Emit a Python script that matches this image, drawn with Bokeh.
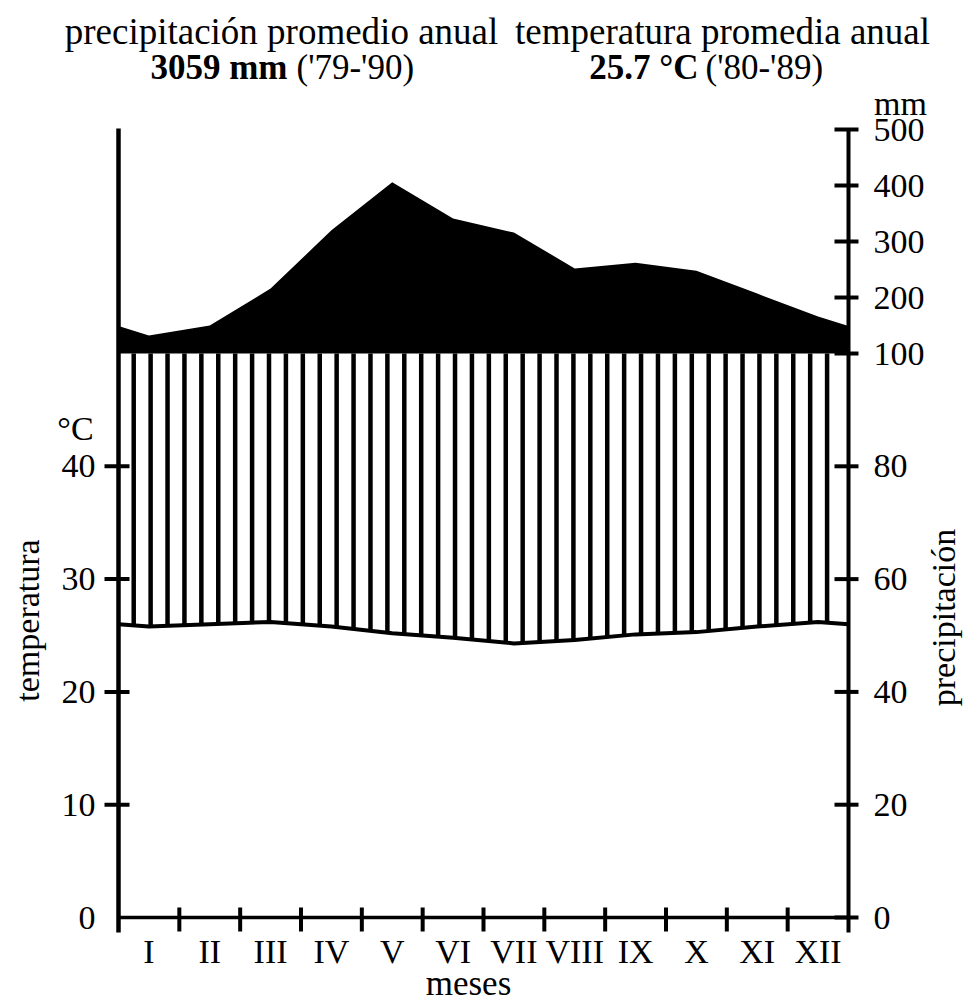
import numpy as np
from bokeh.plotting import figure
from bokeh.models import Range1d
from bokeh.core.properties import value
from bokeh.embed import file_html
from bokeh.resources import INLINE

# ---------------- data ----------------
months = ["I", "II", "III", "IV", "V", "VI", "VII", "VIII", "IX", "X", "XI", "XII"]
temperature = [25.8, 26.0, 26.2, 25.8, 25.2, 24.8, 24.3, 24.6, 25.1, 25.3, 25.8, 26.2]   # °C
precipitation = [132, 150, 216, 320, 406, 341, 316, 252, 262, 248, 207, 166]            # mm
temp_ticks = [0, 10, 20, 30, 40]
precip_ticks = [0, 20, 40, 60, 80, 100, 200, 300, 400, 500]

title_left_1 = "precipitación promedio anual"
title_left_bold = "3059 mm"
title_left_rest = "('79-'90)"
title_right_1 = "temperatura promedia anual"
title_right_bold = "25.7 °C"
title_right_rest = "('80-'89)"

# ---------------- scales ----------------
COMPRESS = 4.965  # temperature units per 100 mm above 100 mm


def mm_to_y(mm):
    mm = np.asarray(mm, dtype=float)
    return np.where(mm <= 100, mm / 2.0, 50 + (mm - 100) / 100.0 * COMPRESS)


YMAX = float(mm_to_y(500))

W, H = 965, 1004
L, R, TOP, B = 118, 848, 129, 917   # pixel box of the diagram


def dx(px):
    return (px - L) / (R - L) * 12.0


def dy(py):
    return (B - py) / (B - TOP) * YMAX


FONT = "Liberation Serif"

p = figure(width=W, height=H, x_range=Range1d(dx(0), dx(W)), y_range=Range1d(dy(H), dy(0)),
           toolbar_location=None, output_backend="svg",
           x_axis_type=None, y_axis_type=None,
           min_border=0, min_border_left=0, min_border_right=0,
           min_border_top=0, min_border_bottom=0)
p.outline_line_color = None
p.background_fill_color = "white"
p.border_fill_color = "white"
p.xgrid.visible = False
p.ygrid.visible = False

# ---------------- series ----------------
xm = np.arange(len(months)) + 0.5
t_edge = (temperature[0] + temperature[-1]) / 2.0
p_edge = (precipitation[0] + precipitation[-1]) / 2.0
x_ext = np.concatenate([[0.0], xm, [12.0]])
t_ext = np.array([t_edge] + list(temperature) + [t_edge])
p_ext = mm_to_y([p_edge] + list(precipitation) + [p_edge])

# black area above 100 mm
p.varea(x=x_ext, y1=np.full(len(x_ext), 50.0), y2=p_ext, fill_color="black", fill_alpha=1)

# vertical hatching between temperature curve and 100 mm line
xh = np.arange(0.25, 11.9, 0.278)
yh = np.interp(xh, x_ext, t_ext)
p.segment(x0=xh, y0=yh, x1=xh, y1=np.full(len(xh), 50.0), line_color="black", line_width=4.5)

# temperature curve
p.line(x_ext, t_ext, line_color="black", line_width=4)

# ---------------- axes (drawn on the same scales) ----------------
ybot = dy(932)
p.segment(x0=[0], y0=[ybot], x1=[0], y1=[dy(128)], line_color="black", line_width=4.5)
p.segment(x0=[12], y0=[ybot], x1=[12], y1=[YMAX], line_color="black", line_width=4)
p.segment(x0=[0], y0=[0], x1=[12], y1=[0], line_color="black", line_width=3.5)

lt = np.array(temp_ticks[1:], dtype=float)
p.segment(x0=np.full(len(lt), dx(L - 14)), y0=lt, x1=np.full(len(lt), dx(L + 11)), y1=lt,
          line_color="black", line_width=4)
rt = mm_to_y(precip_ticks)
p.segment(x0=np.full(len(rt), dx(R - 14)), y0=rt, x1=np.full(len(rt), dx(R + 10)), y1=rt,
          line_color="black", line_width=4)
bt = np.arange(1, 12, dtype=float)
p.segment(x0=bt, y0=np.full(len(bt), dy(B + 14)), x1=bt, y1=np.full(len(bt), dy(B - 10)),
          line_color="black", line_width=4)

TICK_FS = "34px"
p.text(x=np.full(len(temp_ticks), dx(95)), y=np.array(temp_ticks, dtype=float),
       text=[str(t) for t in temp_ticks], text_font=value(FONT), text_font_size=TICK_FS,
       text_align="right", text_baseline="middle", text_color="black")
p.text(x=np.full(len(rt), dx(873)), y=rt, text=[str(t) for t in precip_ticks],
       text_font=value(FONT), text_font_size=TICK_FS,
       text_align="left", text_baseline="middle", text_color="black")
p.text(x=xm, y=np.full(len(xm), dy(951)), text=months, text_font=value(FONT),
       text_font_size=TICK_FS, text_align="center", text_baseline="middle", text_color="black")


# ---------------- other text ----------------
def lab(text, px, py, size, bold=False, align="center", angle=0.0):
    p.text(x=[dx(px)], y=[dy(py)], text=[text], text_font=value(FONT),
           text_font_size=f"{size}px", text_font_style="bold" if bold else "normal",
           text_align=align, text_baseline="middle", angle=angle, text_color="black")


lab(title_left_1, 281, 31, 37)
lab(title_right_1, 722, 31, 37)
lab(title_left_bold, 287, 67, 35, bold=True, align="right")
lab(title_left_rest, 296, 67, 35, align="left")
lab(title_right_bold, 698, 67, 35, bold=True, align="right")
lab(title_right_rest, 705, 67, 35, align="left")

lab("mm", 900, 103, 34)
lab("°C", 75, 428, 34)
lab("temperatura", 27, 620, 34, angle=np.pi / 2)
lab("precipitación", 943, 617, 34, angle=np.pi / 2)
lab("meses", 468, 983, 35)

open("out.html", "w").write(file_html(p, INLINE))
